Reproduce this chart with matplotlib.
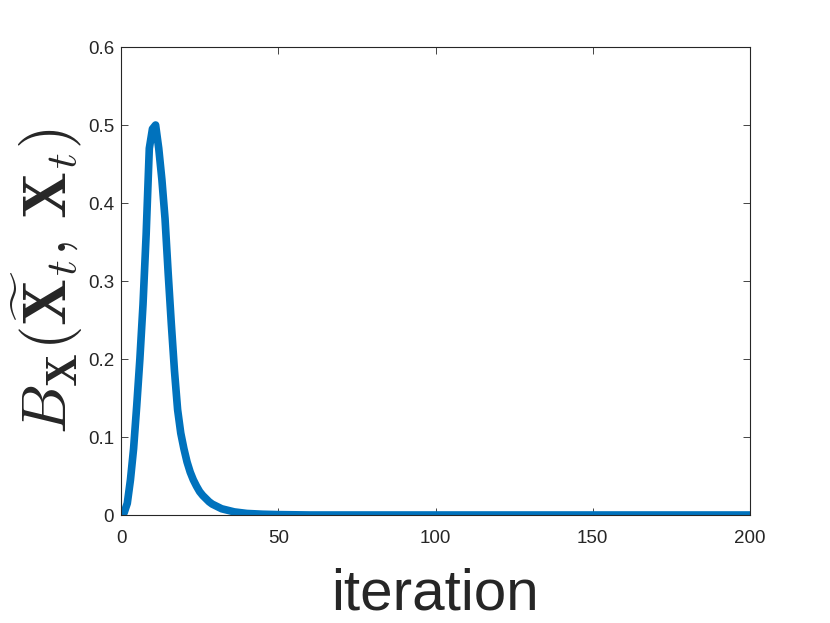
import matplotlib
matplotlib.use("Agg")
import matplotlib.pyplot as plt

iterations = [0, 1, 2, 3, 4, 5, 6, 7, 8, 9, 10, 11, 12, 13, 14, 15, 16, 17, 18, 19,
              20, 21, 22, 23, 24, 25, 26, 27, 28, 29, 30, 32, 34, 36, 38, 40, 45, 50,
              60, 80, 100, 120, 140, 160, 180, 200]
values = [0.0, 0.003, 0.015, 0.045, 0.085, 0.14, 0.20, 0.27, 0.36, 0.47, 0.495, 0.50,
          0.47, 0.43, 0.38, 0.31, 0.245, 0.185, 0.135, 0.105, 0.085, 0.068, 0.055,
          0.045, 0.037, 0.030, 0.025, 0.021, 0.017, 0.014, 0.012, 0.008, 0.006, 0.004,
          0.003, 0.002, 0.001, 0.0005, 0.0, 0.0, 0.0, 0.0, 0.0, 0.0, 0.0, 0.0]
xticks = [0, 50, 100, 150, 200]
yticks = [0, 0.1, 0.2, 0.3, 0.4, 0.5, 0.6]
yticklabels = ["0", "0.1", "0.2", "0.3", "0.4", "0.5", "0.6"]

font = "Liberation Sans"
plt.rcParams["mathtext.fontset"] = "cm"

fig = plt.figure(figsize=(8.30, 6.23), dpi=100)
ax = fig.add_axes([121 / 830, 1 - 515 / 623, (750 - 121) / 830, (515 - 47) / 623])
ax.plot(iterations, values, color="#0072BD", linewidth=5.5, solid_capstyle="round",
        solid_joinstyle="round")
ax.set_xlim(0, 200)
ax.set_ylim(0, 0.6)
ax.set_xticks(xticks)
ax.set_yticks(yticks)
ax.set_yticklabels(yticklabels)
for lab in ax.get_xticklabels() + ax.get_yticklabels():
    lab.set_fontfamily(font)
    lab.set_fontsize(13.5)
    lab.set_color("#262626")
ax.tick_params(direction="in", top=True, right=True, length=5, width=0.6,
               colors="#262626")
ax.tick_params(axis="x", pad=11)
ax.tick_params(axis="y", pad=5)
for s in ax.spines.values():
    s.set_linewidth(0.8)
    s.set_color("#262626")

fig.text(435 / 830, 1 - 610 / 623, "iteration", fontfamily=font, fontsize=42,
         color="#262626", ha="center", va="baseline")
fig.text(47 / 830, 1 - 281 / 623, r"$B_{\mathbf{X}}(\widetilde{\mathbf{X}}_t,\,\mathbf{X}_t)$",
         rotation=90, fontsize=45, color="#262626", ha="center", va="center")

fig.savefig("out.png", dpi=100)
